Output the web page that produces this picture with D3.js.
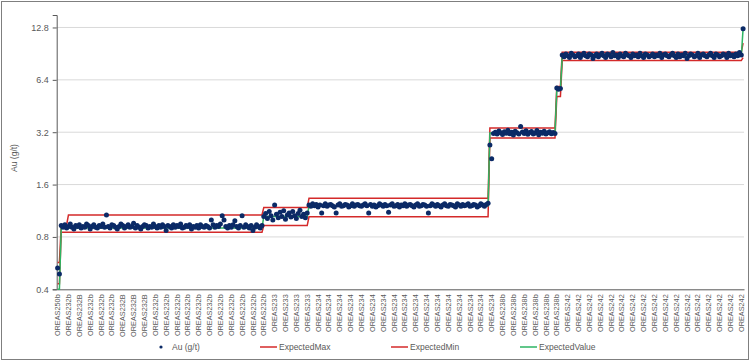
<!DOCTYPE html>
<html>
<head>
<meta charset="utf-8">
<script src="https://cdn.jsdelivr.net/npm/d3@7"></script>
<style>
  body { margin: 0; background: #fff; }
  svg { font-family: "Liberation Sans", Arial, sans-serif; }
</style>
</head>
<body>
<div id="chart"></div>
<script>
// Au (g/t) assays, one array per standard run (in chart order)
const au250b = [0.53, 0.49];
const au232bStart = [0.93, 0.91, 0.94, 0.90];
const au232b = [
  0.92,0.95,0.91,0.89,0.93,0.92,0.94,0.90,0.92,0.91,0.95,0.93,0.89,0.92,0.94,0.91,
  0.90,0.93,0.92,0.95,0.91,1.07,0.92,0.90,0.94,0.93,0.91,0.89,0.92,0.95,0.93,0.90,
  0.92,0.94,0.91,0.92,0.96,0.90,0.93,0.91,0.89,0.92,0.94,0.93,0.90,0.92,0.91,0.95,
  0.92,0.90,0.93,0.91,0.94,0.92,0.87,0.93,0.92,0.90,0.94,0.91,0.93,0.92,0.95,0.90,
  0.91,0.93,0.92,0.94,0.89,0.92,0.91,0.93,0.90,0.94,0.92,0.91,0.93,0.92,0.90,1.00,
  0.94,0.91,0.93,0.92,0.95,1.06,1.00,0.92,0.90,0.93,0.91,0.94,0.99,0.92,0.90,0.93,
  1.06,0.91,0.94,0.92,0.90,0.93,0.87,0.91,0.94,0.92,0.90,0.93
];
const au233 = [1.05,1.09,1.02,1.12,1.06,1.00,1.22,1.08,1.03,1.11,1.05,1.13,1.01,
  1.07,1.10,1.04,1.12,1.06,1.02,1.09,1.14,1.05,1.08,1.03,1.10];
const au234 = [
  1.22,1.20,1.24,1.21,1.23,1.19,1.22,1.10,1.21,1.24,1.20,1.22,1.23,1.21,1.19,1.10,
  1.22,1.24,1.20,1.21,1.23,1.22,1.19,1.21,1.24,1.20,1.22,1.23,1.21,1.20,1.22,1.24,
  1.21,1.10,1.23,1.20,1.22,1.19,1.21,1.24,1.22,1.20,1.23,1.21,1.11,1.22,1.24,1.20,
  1.21,1.23,1.19,1.22,1.21,1.24,1.20,1.22,1.23,1.21,1.19,1.22,1.24,1.20,1.21,1.23,
  1.22,1.20,1.10,1.21,1.24,1.22,1.20,1.23,1.21,1.19,1.22,1.24,1.21,1.20,1.23,1.22,
  1.21,1.19,1.24,1.22,1.20,1.23,1.21,1.22,1.24,1.20,1.21,1.23,1.22,1.19,1.21,1.24,
  1.22,1.20,1.23,1.25
];
const au238b = [2.70,2.25,3.15,3.20,3.12,3.25,3.18,3.10,3.22,3.16,3.28,3.14,3.20,
  3.08,3.24,3.18,3.12,3.45,3.21,3.15,3.26,3.11,3.19,3.23,3.13,3.17,3.27,3.09,3.20,
  3.16,3.24,3.12,3.18,3.22,3.14,3.19,3.15];
const auMid = [5.75, 5.65, 5.70];
const au242 = [
  8.9,8.7,9.0,8.8,8.6,9.1,8.9,8.7,8.8,9.0,8.6,8.9,9.1,8.8,8.7,9.0,8.9,8.5,8.8,9.0,
  8.7,8.9,9.1,8.8,8.6,9.0,8.9,8.7,9.2,8.8,8.9,8.6,9.0,8.8,8.7,9.1,8.9,8.8,8.6,9.0,
  8.8,8.9,8.7,9.1,8.8,8.6,9.0,8.9,8.7,8.8,9.0,8.7,8.9,8.8,9.1,8.6,8.9,9.0,8.8,8.7,
  8.9,9.1,8.8,8.6,9.0,8.7,8.9,8.8,9.1,8.5,8.8,9.0,8.9,8.7,8.8,9.1,8.6,8.9,9.0,8.8,
  8.7,8.9,9.1,8.8,8.6,9.0,8.9,8.7,8.8,9.0,8.9,8.6,9.1,8.8,8.9,8.7,9.0,8.8,9.2,8.9
];
const auLast = [12.6];

const auGroups = [au250b, au232bStart, au232b, au233, au234, au238b, auMid, au242, auLast];
// expected limits for each run, same order
const expectedMax   = [0.57, 0.94, 1.07, 1.18, 1.335, 3.38, 5.87, 9.22, 10.4];
const expectedMin   = [0.43, 0.85, 0.85, 0.93, 1.045, 2.96, 5.14, 8.26, 8.6];
const expectedValue = [0.40, 0.90, 0.90, 1.05, 1.21, 3.17, 5.6, 8.74, 12.6];

// category labels (every 6th sample is labelled)
const xLabels = ['OREAS250b',
  'OREAS232b','OREAS232B','OREAS232b','OREAS232b','OREAS232b','OREAS232B','OREAS232B',
  'OREAS232B','OREAS232b','OREAS232b','OREAS232b','OREAS232b','OREAS232b','OREAS232b',
  'OREAS232b','OREAS232b','OREAS232b','OREAS232b','OREAS232b',
  'OREAS233','OREAS233','OREAS233','OREAS233',
  'OREAS234','OREAS234','OREAS234','OREAS234','OREAS234','OREAS234','OREAS234','OREAS234',
  'OREAS234','OREAS234','OREAS234','OREAS234','OREAS234','OREAS234','OREAS234','OREAS234','OREAS234',
  'OREAS238b','OREAS238b','OREAS238b','OREAS238b','OREAS238b','OREAS238b',
  'OREAS242','OREAS242','OREAS242','OREAS242','OREAS242','OREAS242','OREAS242','OREAS242',
  'OREAS242','OREAS242','OREAS242','OREAS242','OREAS242','OREAS242','OREAS242','OREAS242','OREAS242'];
const labelStep = 6;
const yTicks = [0.4, 0.8, 1.6, 3.2, 6.4, 12.8];

// flatten into one row per sample
const rows = [];
auGroups.forEach((vals, g) => {
  vals.forEach(v => rows.push({ au: v, max: expectedMax[g], min: expectedMin[g], ev: expectedValue[g] }));
});
const idx = d3.range(rows.length);

const width = 750, height = 362;
const plotLeft = 56.7, plotRight = 744, plotTop = 15, plotBottom = 289.3;

const svg = d3.select('#chart').append('svg')
  .attr('width', width)
  .attr('height', height);

svg.append('rect')
  .attr('x', 1.5).attr('y', 1.5)
  .attr('width', width - 3).attr('height', height - 4)
  .attr('fill', '#fff')
  .attr('stroke', '#7f7f7f');

const x = d3.scaleBand().domain(idx).range([plotLeft, plotRight]);
const cx = i => x(i) + x.bandwidth() / 2;
const y = d3.scaleLog().base(2).domain([0.4, 15.1]).range([plotBottom, plotTop]);

// gridlines
svg.append('g').selectAll('line')
  .data(yTicks.slice(1))
  .enter().append('line')
    .attr('x1', plotLeft).attr('x2', plotRight)
    .attr('y1', d => y(d)).attr('y2', d => y(d))
    .attr('stroke', '#d9d9d9');

// y axis
const yAxis = svg.append('g')
  .attr('transform', `translate(${plotLeft},0)`)
  .call(d3.axisLeft(y).tickValues(yTicks).tickFormat(d => d.toFixed(1)).tickSize(4).tickPadding(4));
yAxis.select('.domain').attr('stroke', '#595959');
yAxis.selectAll('.tick line').attr('stroke', '#595959');
yAxis.selectAll('text').attr('fill', '#595959').style('font-size', '9px');

// x axis
const xAxis = svg.append('g')
  .attr('transform', `translate(0,${plotBottom})`)
  .call(d3.axisBottom(x)
    .tickValues(xLabels.map((d, j) => j * labelStep))
    .tickFormat((d, j) => xLabels[j])
    .tickSize(0));
xAxis.select('.domain').attr('stroke', '#595959');
xAxis.selectAll('text')
  .attr('transform', 'rotate(-90)')
  .attr('x', -5).attr('y', 0).attr('dy', '0.35em')
  .style('text-anchor', 'end')
  .style('font-size', '7.3px')
  .attr('fill', '#595959');

// y title
svg.append('text')
  .attr('transform', 'translate(17,158) rotate(-90)')
  .attr('text-anchor', 'middle')
  .attr('fill', '#595959')
  .style('font-size', '8.5px')
  .text('Au (g/t)');

// expected lines
const lineOf = key => d3.line().x(i => cx(i)).y(i => y(rows[i][key]));
const plot = svg.append('g');
plot.append('path').attr('d', lineOf('max')(idx))
  .attr('fill', 'none').attr('stroke', '#d42a2a').attr('stroke-width', 1.5);
plot.append('path').attr('d', lineOf('min')(idx))
  .attr('fill', 'none').attr('stroke', '#d42a2a').attr('stroke-width', 1.5);
plot.append('path').attr('d', lineOf('ev')(idx))
  .attr('fill', 'none').attr('stroke', '#2db563').attr('stroke-width', 1.5);

// assay points
plot.append('g').selectAll('circle')
  .data(idx)
  .enter().append('circle')
    .attr('cx', i => cx(i))
    .attr('cy', i => y(rows[i].au))
    .attr('r', 2.5)
    .attr('fill', '#0b2a66');

// legend
const legend = svg.append('g').attr('transform', 'translate(0,347)')
  .style('font-size', '8.5px').attr('fill', '#595959');
legend.append('circle').attr('cx', 161).attr('cy', 0).attr('r', 1.6).attr('fill', '#0b2a66');
legend.append('text').attr('x', 172).attr('dy', '0.35em').text('Au (g/t)');
const legendLines = [
  { x: 260, label: 'ExpectedMax', color: '#d42a2a' },
  { x: 391, label: 'ExpectedMin', color: '#d42a2a' },
  { x: 520, label: 'ExpectedValue', color: '#2db563' }
];
legendLines.forEach(d => {
  legend.append('line').attr('x1', d.x).attr('x2', d.x + 17)
    .attr('stroke', d.color).attr('stroke-width', 1.5);
  legend.append('text').attr('x', d.x + 19).attr('dy', '0.35em').text(d.label);
});
</script>
</body>
</html>
